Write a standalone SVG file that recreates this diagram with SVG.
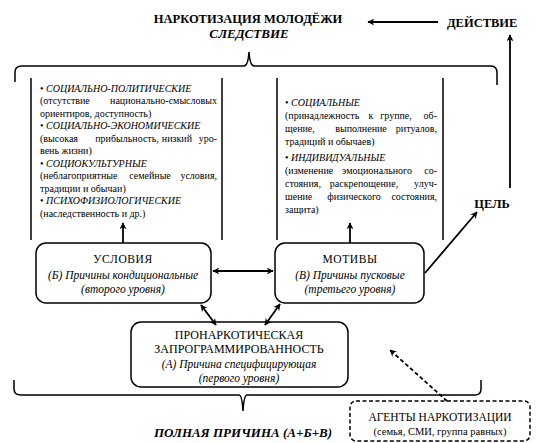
<svg xmlns="http://www.w3.org/2000/svg" width="540" height="443" viewBox="0 0 540 443" font-family="'Liberation Serif', 'DejaVu Serif', serif">
<defs>
<marker id="ah" viewBox="0 0 10 10" refX="9" refY="5" markerWidth="7" markerHeight="7" markerUnits="userSpaceOnUse" orient="auto-start-reverse"><path d="M0,0 L10,5 L0,10 L3,5 z" fill="#000"/></marker>
<style>
.t{font-family:"Liberation Serif","DejaVu Serif",serif;fill:#000}
.h{font-size:12.5px;font-weight:bold}
.bi{font-size:13px;font-weight:bold;font-style:italic}
.n{font-size:11.5px}
.m{font-size:12px}
.s{font-size:10px}
.i{font-size:10px;font-style:italic}
.bx{font-size:11.5px;font-style:italic}
.ln{stroke:#000;stroke-width:1.5;fill:none}
.ar{stroke:#000;stroke-width:1.8;fill:none;marker-end:url(#ah)}
.dar{stroke:#000;stroke-width:1.8;fill:none;marker-start:url(#ah);marker-end:url(#ah)}
.box{fill:#fff;stroke:#000;stroke-width:1.5}
</style>
</defs>
<rect width="540" height="443" fill="#fff"/>

<g id="title">
<text class="t h" x="248" y="23" text-anchor="middle">НАРКОТИЗАЦИЯ МОЛОДЁЖИ</text>
<text class="t bi" x="249" y="38" text-anchor="middle" font-size="12px">СЛЕДСТВИЕ</text>
</g>
<g id="deistvie"><text class="t h" x="447" y="27">ДЕЙСТВИЕ</text></g>
<g id="cel"><text class="t h" x="492" y="208" text-anchor="middle">ЦЕЛЬ</text></g>

<g id="braces">
<path class="ln" d="M15,82 L15,72 Q15,66 22,66 L244,66 Q248,66 249,52 Q250,66 254,66 L491,66 Q497,66 497,73 L497,85"/>
<path class="ln" d="M14,380 L14,389 Q14,395 21,395 L239,395 Q242,395 243,411 M243,411 Q244,395 247,395 L475,395 Q481,395 481,389 L481,380"/>
</g>

<g id="conditions-factors">
<path class="ln" d="M31,78 V240 M222,78 V240"/>
<text class="t s">
<tspan x="40" y="92">•<tspan class="i"> СОЦИАЛЬНО-ПОЛИТИЧЕСКИЕ</tspan></tspan>
<tspan x="40" y="104">(отсутствие</tspan>
<tspan x="40" y="117">ориентиров, доступность)</tspan>
<tspan x="40" y="129">•<tspan class="i"> СОЦИАЛЬНО-ЭКОНОМИЧЕСКИЕ</tspan></tspan>
<tspan x="40" y="142">(высокая</tspan>
<tspan x="40" y="154">вень жизни)</tspan>
<tspan x="40" y="167">•<tspan class="i"> СОЦИОКУЛЬТУРНЫЕ</tspan></tspan>
<tspan x="40" y="179">(неблагоприятные</tspan>
<tspan x="40" y="192">традиции и обычаи)</tspan>
<tspan x="40" y="204">•<tspan class="i"> ПСИХОФИЗИОЛОГИЧЕСКИЕ</tspan></tspan>
<tspan x="40" y="217">(наследственность и др.)</tspan>
</text>
<text class="t s" x="217" y="104" text-anchor="end">национально-смысловых</text>
<text class="t s" x="127" y="142" text-anchor="middle">прибыльность,</text>
<text class="t s" x="192" y="142" text-anchor="end">низкий</text>
<text class="t s" x="217" y="142" text-anchor="end">уро-</text>
<text class="t s" x="150" y="179" text-anchor="middle">семейные</text>
<text class="t s" x="217" y="179" text-anchor="end">условия,</text>
</g>

<g id="motives-factors">
<path class="ln" d="M277,78 V240 M443,78 V240"/>
<text class="t s">
<tspan x="285" y="106">•<tspan class="i"> СОЦИАЛЬНЫЕ</tspan></tspan>
<tspan x="285" y="119">(принадлежность</tspan>
<tspan x="285" y="132">щение,</tspan>
<tspan x="285" y="145">традиций и обычаев)</tspan>
<tspan x="285" y="161">•<tspan class="i"> ИНДИВИДУАЛЬНЫЕ</tspan></tspan>
<tspan x="285" y="174">(изменение</tspan>
<tspan x="285" y="187">стояния,</tspan>
<tspan x="285" y="200">шение</tspan>
<tspan x="285" y="213">защита)</tspan>
</text>
<text class="t s" x="371" y="119" text-anchor="middle">к</text>
<text class="t s" x="396" y="119" text-anchor="middle">группе,</text>
<text class="t s" x="437" y="119" text-anchor="end">об-</text>
<text class="t s" x="361" y="132" text-anchor="middle">выполнение</text>
<text class="t s" x="437" y="132" text-anchor="end">ритуалов,</text>
<text class="t s" x="377" y="174" text-anchor="middle">эмоционального</text>
<text class="t s" x="437" y="174" text-anchor="end">со-</text>
<text class="t s" x="364" y="187" text-anchor="middle">раскрепощение,</text>
<text class="t s" x="437" y="187" text-anchor="end">улуч-</text>
<text class="t s" x="354" y="200" text-anchor="middle">физического</text>
<text class="t s" x="437" y="200" text-anchor="end">состояния,</text>
</g>

<g id="usloviya">
<rect class="box" x="36" y="243" width="175" height="60" rx="10"/>
<text class="t n" x="123" y="263" text-anchor="middle" letter-spacing="0.6">УСЛОВИЯ</text>
<text class="t bx" x="123" y="279" text-anchor="middle">(Б) Причины кондициональные</text>
<text class="t bx" x="123" y="293" text-anchor="middle">(второго уровня)</text>
</g>

<g id="motivy">
<rect class="box" x="275" y="243" width="149" height="60" rx="10"/>
<text class="t n" x="350" y="263" text-anchor="middle" letter-spacing="0.6">МОТИВЫ</text>
<text class="t bx" x="350" y="279" text-anchor="middle">(В) Причины пусковые</text>
<text class="t bx" x="350" y="293" text-anchor="middle">(третьего уровня)</text>
</g>

<g id="pronarko">
<rect class="box" x="131" y="322" width="217" height="65" rx="10"/>
<text class="t m" x="239" y="339" text-anchor="middle">ПРОНАРКОТИЧЕСКАЯ</text>
<text class="t m" x="239" y="353" text-anchor="middle">ЗАПРОГРАММИРОВАННОСТЬ</text>
<text class="t bx" x="239" y="368" text-anchor="middle">(А) Причина специфицирующая</text>
<text class="t bx" x="239" y="382" text-anchor="middle">(первого уровня)</text>
</g>

<g id="agenty">
<rect x="350" y="401" width="180" height="40" rx="6" fill="#fff" stroke="#000" stroke-width="1.5" stroke-dasharray="4,2.5"/>
<text class="t n" x="440" y="421" text-anchor="middle">АГЕНТЫ НАРКОТИЗАЦИИ</text>
<text class="t" x="440" y="435" text-anchor="middle" font-size="10.5px">(семья, СМИ, группа равных)</text>
</g>

<g id="polnaya"><text class="t bi" x="243" y="437" text-anchor="middle">ПОЛНАЯ ПРИЧИНА (А+Б+В)</text></g>

<g id="connectors">
<line class="ar" x1="438" y1="22" x2="368" y2="22"/>
<line class="ar" x1="510" y1="188" x2="510" y2="35"/>
<line class="ar" x1="123" y1="243" x2="123" y2="223"/>
<line class="ar" x1="350" y1="243" x2="350" y2="223"/>
<line class="dar" x1="213" y1="271" x2="273" y2="271"/>
<line class="dar" x1="201" y1="305" x2="216" y2="325"/>
<line class="dar" x1="280" y1="304" x2="265" y2="325"/>
<line class="ar" x1="425" y1="273" x2="477" y2="212"/>
<line x1="447" y1="401" x2="390" y2="350" stroke="#000" stroke-width="1.8" stroke-dasharray="4,2.5" marker-end="url(#ah)"/>
</g>
</svg>
